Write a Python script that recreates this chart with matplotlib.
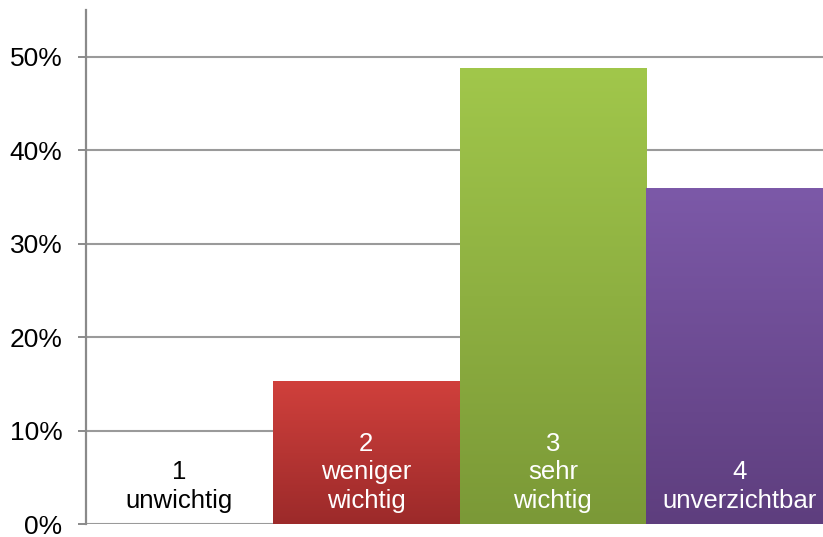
import numpy as np
import matplotlib
matplotlib.use('Agg')
import matplotlib.pyplot as plt
from matplotlib.colors import LinearSegmentedColormap
from matplotlib.ticker import PercentFormatter

labels = ['1\nunwichtig', '2\nweniger\nwichtig', '3\nsehr\nwichtig', '4\nunverzichtbar']
values = [0.0, 15.3, 48.8, 35.9]
top_colors = ['#ffffff', '#d0403c', '#a1c74b', '#7c59a8']
bottom_colors = ['#ffffff', '#9c2a2a', '#7b9937', '#5e3e7e']
text_colors = ['black', 'white', 'white', 'white']

plt.rcParams['font.family'] = ['Liberation Sans', 'DejaVu Sans']

fig = plt.figure(figsize=(8.23, 5.37), dpi=100)
# axes a bit wider than the figure: the last bar is cut at the right edge
ax = fig.add_axes([86 / 823, 13 / 537, 747 / 823, 514 / 537])

x = np.arange(len(values))
bars = ax.bar(x, values, width=1.0, color='none', edgecolor='none', zorder=3)

grad = np.linspace(0, 1, 256).reshape(-1, 1)
for i, b in enumerate(bars):
    if values[i] <= 0:
        continue
    cmap = LinearSegmentedColormap.from_list('g%d' % i, [bottom_colors[i], top_colors[i]])
    x0 = b.get_x()
    im = ax.imshow(grad, extent=[x0, x0 + b.get_width(), 0, values[i]], origin='lower',
                   aspect='auto', cmap=cmap, zorder=3)
    im.set_clip_path(b)

for i, lab in enumerate(labels):
    ax.text(x[i], 1.7, lab, ha='center', va='baseline', fontsize=18.5,
            color=text_colors[i], linespacing=1.25, zorder=5)

ax.set_xlim(-0.5, 3.5)
ax.set_ylim(0, 55)
ax.set_yticks(np.arange(0, 51, 10))
ax.yaxis.set_major_formatter(PercentFormatter(decimals=0))
ax.set_xticks([])

ax.yaxis.grid(True, color='#9a9a9a', linewidth=1.5, zorder=0)
ax.set_axisbelow(True)
for s in ['top', 'right', 'bottom']:
    ax.spines[s].set_visible(False)
ax.spines['left'].set_color('#8a8a8a')
ax.spines['left'].set_linewidth(1.6)
ax.tick_params(axis='y', length=6, width=1.4, color='#8a8a8a', labelsize=19, pad=11)

fig.savefig('out.png', dpi=100)
